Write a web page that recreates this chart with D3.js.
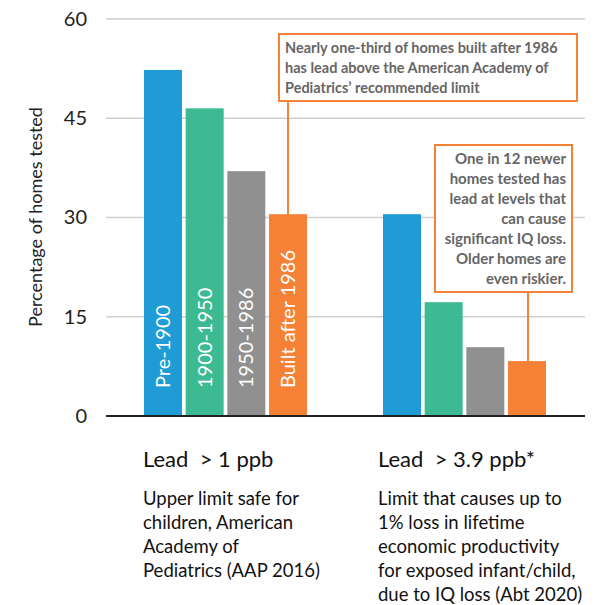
<!DOCTYPE html>
<html>
<head>
<meta charset="utf-8">
<script src="https://cdn.jsdelivr.net/npm/d3@7"></script>
<style>
  html, body { margin: 0; padding: 0; background: #fff; }
  svg { display: block; font-family: "Source Sans Pro", Lato, "Open Sans", sans-serif; }
  .pre { white-space: pre; }
</style>
</head>
<body>
<svg id="chart" width="604" height="605"></svg>
<script>
// Share of homes tested with lead above each threshold, by construction era
const groups = ["> 1 ppb", "> 3.9 ppb"];
const eras = ["Pre-1900", "1900-1950", "1950-1986", "Built after 1986"];
const over1ppb = [52.3, 46.5, 37.0, 30.5];
const over39ppb = [30.5, 17.2, 10.4, 8.3];
const yTicks = [0, 15, 30, 45, 60];
const colors = ["#1f9bd6", "#3cba92", "#909090", "#f58136"];

const groupTitles = ["Lead  > 1 ppb", "Lead  > 3.9 ppb*"];
const groupNotes = [
  ["Upper limit safe for", "children, American", "Academy of", "Pediatrics (AAP 2016)"],
  ["Limit that causes up to", "1% loss in lifetime", "economic productivity", "for exposed infant/child,", "due to IQ loss (Abt 2020)"]
];
const callout1 = ["Nearly one-third of homes built after 1986", "has lead above the American Academy of", "Pediatrics\u2019 recommended limit"];
const callout2 = ["One in 12 newer", "homes tested has", "lead at levels that", "can cause", "significant IQ loss.", "Older homes are", "even riskier."];

const series = [over1ppb, over39ppb];
const rows = groups.flatMap((g, gi) => eras.map((e, ei) => ({ group: g, era: e, value: series[gi][ei], ei })));

const svg = d3.select("#chart");
const plotLeft = 106, plotRight = 585;

const y = d3.scaleLinear().domain([0, 60]).range([416, 19]);
const x0 = d3.scaleBand().domain(groups).range([144, 546]).paddingInner(0.318).paddingOuter(0);
const x1 = d3.scaleBand().domain(eras).range([0, x0.bandwidth()]).paddingInner(0.088).paddingOuter(0);

// Horizontal gridlines
svg.append("g")
  .selectAll("line")
  .data(yTicks.filter(d => d > 0))
  .join("line")
  .attr("x1", plotLeft).attr("x2", plotRight)
  .attr("y1", d => y(d)).attr("y2", d => y(d))
  .attr("stroke", "#cfcfcf").attr("stroke-width", 1.5);

// Y axis labels
const yAxis = svg.append("g")
  .attr("transform", `translate(${plotLeft},0)`)
  .call(d3.axisLeft(y).tickValues(yTicks).tickSize(0).tickPadding(19));
yAxis.select(".domain").remove();
yAxis.selectAll("text")
  .attr("font-size", 20).attr("fill", "#222")
  .attr("font-family", "\"Source Sans Pro\", Lato, \"Open Sans\", sans-serif");

svg.append("text")
  .attr("transform", `translate(42,217) rotate(-90)`)
  .attr("text-anchor", "middle")
  .attr("font-size", 18).attr("fill", "#222")
  .text("Percentage of homes tested");

// Bars
svg.append("g")
  .selectAll("rect")
  .data(rows)
  .join("rect")
  .attr("x", d => x0(d.group) + x1(d.era))
  .attr("width", x1.bandwidth())
  .attr("y", d => y(d.value))
  .attr("height", d => y(0) - y(d.value))
  .attr("fill", d => colors[d.ei]);

// Era labels inside the first group's bars
svg.append("g")
  .selectAll("text")
  .data(rows.filter(d => d.group === groups[0]))
  .join("text")
  .attr("transform", d => `translate(${x0(d.group) + x1(d.era) + x1.bandwidth() / 2 + 7},${y(0) - 28}) rotate(-90)`)
  .attr("fill", "#fff")
  .attr("font-size", 20)
  .text(d => d.era);

// Baseline
svg.append("line")
  .attr("x1", plotLeft).attr("x2", plotRight)
  .attr("y1", y(0)).attr("y2", y(0))
  .attr("stroke", "#222").attr("stroke-width", 2);

// Group titles and notes, set just left of each group's first bar
const textShift = [1, 5];
groups.forEach((g, gi) => {
  const gx = x0(g) - textShift[gi];
  svg.append("text")
    .attr("class", "pre")
    .attr("x", gx).attr("y", 467)
    .attr("font-size", 22).attr("fill", "#111")
    .text(groupTitles[gi]);
  const t = svg.append("text")
    .attr("x", gx).attr("y", 505)
    .attr("font-size", 18.5).attr("fill", "#111");
  groupNotes[gi].forEach((line, li) => {
    t.append("tspan").attr("x", gx).attr("y", 505 + li * 24).text(line);
  });
});

// Callouts
const orange = "#f58136";
function callout(box, lines, anchor, bar, size) {
  svg.append("line")
    .attr("x1", anchor).attr("x2", anchor)
    .attr("y1", box.y + box.h).attr("y2", y(bar.value))
    .attr("stroke", orange).attr("stroke-width", 2);
  svg.append("rect")
    .attr("x", box.x).attr("y", box.y).attr("width", box.w).attr("height", box.h)
    .attr("fill", "#fff").attr("stroke", orange).attr("stroke-width", 2);
  const t = svg.append("text")
    .attr("font-size", size).attr("font-weight", 700).attr("fill", "#666")
    .attr("text-anchor", box.align === "right" ? "end" : "start");
  const tx = box.align === "right" ? box.x + box.w - 6 : box.x + 6;
  lines.forEach((line, li) => {
    t.append("tspan").attr("x", tx).attr("y", box.y + box.first + li * box.lh).text(line);
  });
}

callout({ x: 279, y: 34, w: 298, h: 67, first: 19, lh: 20, align: "left" },
  callout1, 288, rows[3], 14.5);
callout({ x: 435, y: 145, w: 137, h: 147, first: 19, lh: 20, align: "right" },
  callout2, 528, rows[7], 15);
</script>
</body>
</html>
